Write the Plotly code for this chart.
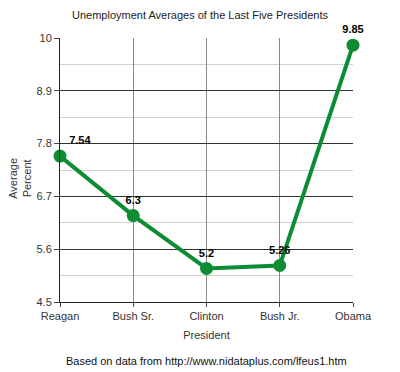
import plotly.graph_objects as go

presidents = ["Reagan", "Bush Sr.", "Clinton", "Bush Jr.", "Obama"]
averages = [7.54, 6.3, 5.2, 5.26, 9.85]
labels = ["7.54", "6.3", "5.2", "5.26", "9.85"]
y_ticks = [4.5, 5.6, 6.7, 7.8, 8.9, 10]
y_minor = [5.05, 6.15, 7.25, 8.35, 9.45]

xpos = list(range(len(presidents)))
positions = ["top right", "top center", "top center", "top center", "top center"]

fig = go.Figure()
fig.add_trace(go.Scatter(
    x=xpos, y=averages, mode="lines+markers+text",
    line=dict(color="#0e8c34", width=4),
    marker=dict(color="#0e8c34", size=13),
    text=["<b>%s</b>" % t for t in labels],
    textposition=positions,
    textfont=dict(family="Liberation Sans, Arial", size=11, color="#000"),
    cliponaxis=False, showlegend=False, hoverinfo="skip",
))

fig.update_layout(
    width=400, height=372,
    margin=dict(l=60, r=47, t=38, b=70),
    paper_bgcolor="white", plot_bgcolor="white",
    font=dict(family="Liberation Sans, Arial", size=11, color="#333"),
    title=dict(text="Unemployment Averages of the Last Five Presidents",
               x=0.5, xanchor="center", y=0.96, yanchor="middle",
               font=dict(size=11, color="#222")),
    xaxis=dict(
        range=[0, 4], tickvals=xpos, ticktext=presidents,
        showgrid=True, gridcolor="#888", gridwidth=1,
        showline=True, linecolor="#222", linewidth=1,
        ticks="outside", ticklen=4, tickcolor="#444",
        zeroline=False, tickfont=dict(size=11, color="#333"),
        title=dict(text="President", font=dict(size=11, color="#333"), standoff=10),
    ),
    yaxis=dict(
        range=[4.5, 10], tickvals=y_ticks, ticktext=[str(v) for v in y_ticks],
        showgrid=True, gridcolor="#333", gridwidth=1,
        showline=True, linecolor="#222", linewidth=1,
        ticks="outside", ticklen=5, tickcolor="#444",
        zeroline=False, tickfont=dict(size=11, color="#333"),
        minor=dict(tickvals=y_minor, showgrid=True, gridcolor="#d0d0d0", gridwidth=1, ticks=""),
    ),
    annotations=[
        dict(text="Average<br>Percent", textangle=-90, x=-0.137, y=0.47,
             xref="paper", yref="paper", xanchor="center", yanchor="middle",
             showarrow=False, font=dict(size=11, color="#333")),
        dict(text="Based on data from http://www.nidataplus.com/lfeus1.htm",
             x=0.5, y=-0.222, xref="paper", yref="paper",
             xanchor="center", yanchor="middle",
             showarrow=False, font=dict(size=11, color="#111")),
    ],
)

fig.write_html("out.html", config={"displayModeBar": False},
               post_script="document.body.style.margin='0';document.body.style.padding='0';document.documentElement.style.overflow='hidden';")
